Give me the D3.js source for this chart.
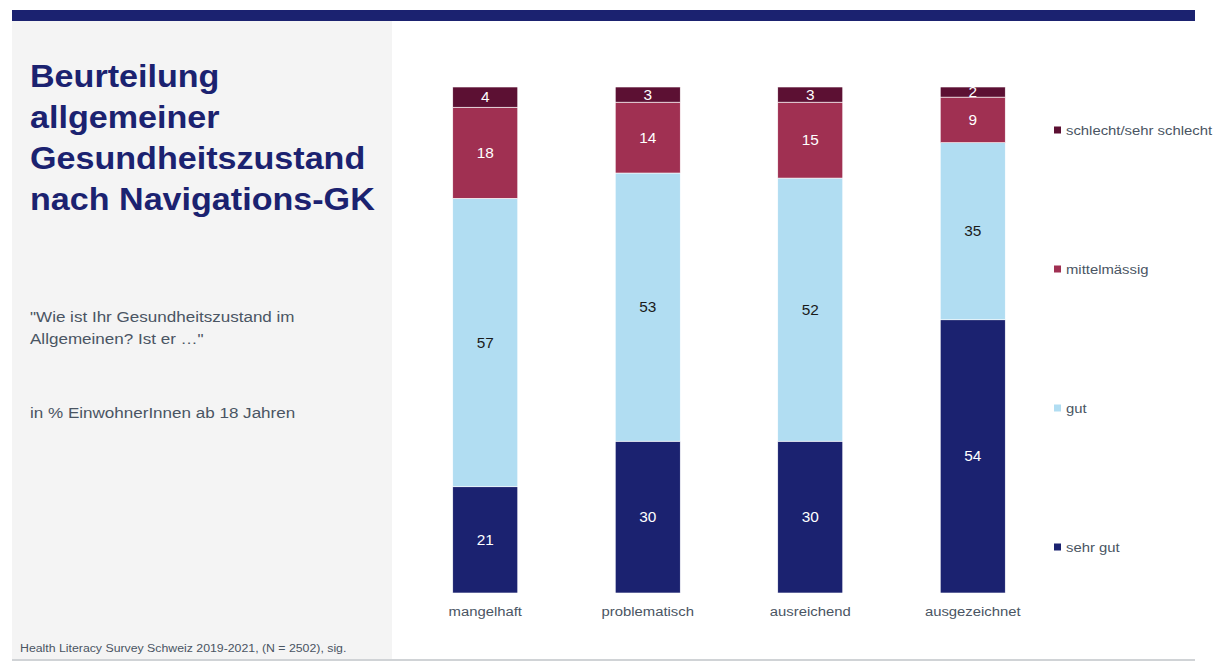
<!DOCTYPE html>
<html>
<head>
<meta charset="utf-8">
<script src="https://cdn.jsdelivr.net/npm/d3@7"></script>
<style>
  html, body { margin: 0; padding: 0; background: #ffffff; }
  svg { display: block; font-family: "Liberation Sans", Arial, sans-serif; }
</style>
</head>
<body>
<svg id="chart" width="1222" height="664"></svg>
<script>
// Categories (Navigations-Gesundheitskompetenz) and response shares in %
const categories = ["mangelhaft", "problematisch", "ausreichend", "ausgezeichnet"];
const seriesNames = ["sehr gut", "gut", "mittelmässig", "schlecht/sehr schlecht"];
const sehrGut = [21, 30, 30, 54];
const gut = [57, 53, 52, 35];
const mittelmaessig = [18, 14, 15, 9];
const schlecht = [4, 3, 3, 2];

const seriesColors = ["#1b2270", "#b1ddf2", "#a03052", "#5c1033"];
const labelColors = ["#ffffff", "#1a1a1a", "#ffffff", "#ffffff"];

const titleLines = ["Beurteilung", "allgemeiner", "Gesundheitszustand", "nach Navigations-GK"];
const questionLines = ["\"Wie ist Ihr Gesundheitszustand im", "Allgemeinen? Ist er …\""];
const unitText = "in % EinwohnerInnen ab 18 Jahren";
const sourceText = "Health Literacy Survey Schweiz 2019-2021, (N = 2502), sig.";

// The slide typeface runs a little wider than Liberation Sans
const WIDEN = 1.1;
const place = (x, y, sx = WIDEN) => `translate(${x},${y}) scale(${sx},1)`;

const svg = d3.select("#chart");

// Page frame: side panel, header rule, footer rule
svg.append("rect").attr("x", 12).attr("y", 21).attr("width", 380).attr("height", 638).attr("fill", "#f4f4f4");
svg.append("rect").attr("x", 12).attr("y", 10).attr("width", 1183).attr("height", 11).attr("fill", "#1b2270");
svg.append("rect").attr("x", 12).attr("y", 659).attr("width", 1183).attr("height", 2).attr("fill", "#d0d3d6");

// Title block
svg.append("g").selectAll("text").data(titleLines).join("text")
  .attr("transform", (d, i) => place(30, 87 + i * 41, 1.1))
  .attr("font-size", 31).attr("font-weight", "bold").attr("fill", "#1b2270")
  .text(d => d);

svg.append("g").selectAll("text").data(questionLines).join("text")
  .attr("transform", (d, i) => place(30, 322 + i * 22))
  .attr("font-size", 15.5).attr("fill", "#4a5563")
  .text(d => d);

svg.append("text").attr("transform", place(30, 418))
  .attr("font-size", 15.5).attr("fill", "#4a5563").text(unitText);

svg.append("text").attr("transform", place(20, 652, 1.12))
  .attr("font-size", 11).attr("fill", "#4a5563").text(sourceText);

// Stacked bars
const rows = categories.map((c, i) => ({
  category: c,
  "sehr gut": sehrGut[i],
  "gut": gut[i],
  "mittelmässig": mittelmaessig[i],
  "schlecht/sehr schlecht": schlecht[i]
}));
const stacked = d3.stack().keys(seriesNames)(rows);

const x = d3.scaleBand().domain(categories).range([404, 1054]).paddingInner(0.6).paddingOuter(0.3);
const y = d3.scaleLinear().domain([0, 100]).range([593, 87]);

const layers = svg.append("g").selectAll("g").data(stacked).join("g")
  .attr("fill", (d, i) => seriesColors[i]);

layers.selectAll("rect").data(d => d).join("rect")
  .attr("x", d => x(d.data.category))
  .attr("y", d => y(d[1]))
  .attr("width", x.bandwidth())
  .attr("height", d => y(d[0]) - y(d[1]))
  .attr("stroke", "#ffffff").attr("stroke-width", 0.6);

layers.selectAll("text").data((d, i) => d.map(p => ({ p, i }))).join("text")
  .attr("transform", d => place(x(d.p.data.category) + x.bandwidth() / 2, (y(d.p[0]) + y(d.p[1])) / 2))
  .attr("dy", "0.36em")
  .attr("text-anchor", "middle")
  .attr("font-size", 14)
  .attr("fill", d => labelColors[d.i])
  .text(d => d.p[1] - d.p[0]);

// Category axis labels
const xAxis = svg.append("g").attr("transform", "translate(0,593)")
  .call(d3.axisBottom(x).tickSize(0).tickPadding(13));
xAxis.select(".domain").remove();
xAxis.selectAll(".tick text").attr("font-size", 13.5).attr("fill", "#4a5563")
  .attr("font-family", "Liberation Sans, Arial, sans-serif")
  .attr("transform", `scale(${WIDEN},1)`);

// Legend (top to bottom in stack order reversed)
const legendY = d3.scalePoint().domain(seriesNames.slice().reverse()).range([130, 547]);
const legend = svg.append("g").selectAll("g").data(seriesNames).join("g")
  .attr("transform", d => `translate(1054,${legendY(d)})`);
legend.append("rect").attr("x", 0).attr("y", -3.5).attr("width", 7).attr("height", 7)
  .attr("fill", (d, i) => seriesColors[i]);
legend.append("text").attr("transform", place(12, 0))
  .attr("dy", "0.36em")
  .attr("font-size", 13.5).attr("fill", "#4a5563").text(d => d);
</script>
</body>
</html>
